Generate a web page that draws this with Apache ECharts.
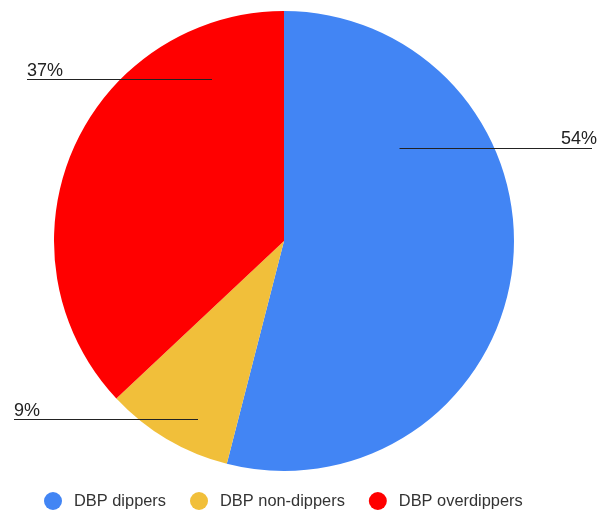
<!DOCTYPE html>
<html>
<head>
<meta charset="utf-8">
<script src="https://cdn.jsdelivr.net/npm/echarts@6/dist/echarts.min.js"></script>
<style>html,body{margin:0;padding:0;background:#fff}#c{width:609px;height:510px}</style>
</head>
<body>
<div id="c"></div>
<script>
const categories = ['DBP dippers', 'DBP non-dippers', 'DBP overdippers'];
const values = [54, 9, 37];
const colors = ['#4285f4', '#f1bf3a', '#ff0000'];

// label placement (text anchor + leader line), per slice
const labelPlacement = [
  { x: 597, y: 139, align: 'right', line: [[399.5, 148.5], [592, 148.5]] },
  { x: 14, y: 411.5, align: 'left', line: [[198, 419.5], [14, 419.5]] },
  { x: 27, y: 71.5, align: 'left', line: [[212, 79.5], [27, 79.5]] }
];

const FONT = 'Liberation Sans, Arial, Helvetica, sans-serif';
const pieData = categories.map((n, i) => ({ name: n, value: values[i] }));
const common = {
  type: 'pie',
  center: [284, 241],
  radius: 230,
  startAngle: 90,
  clockwise: true,
  emphasis: { disabled: true },
  animation: false
};

const chart = echarts.init(document.getElementById('c'), null, { renderer: 'canvas' });
chart.setOption({
  animation: false,
  color: colors,
  legend: {
    data: categories,
    left: 39,
    top: 487,
    icon: 'circle',
    itemWidth: 18,
    itemHeight: 18,
    itemGap: 24,
    textStyle: { fontFamily: FONT, fontSize: 16.4, color: '#333', padding: [0, 0, 0, 7] }
  },
  series: [
    Object.assign({}, common, {
      z: 2,
      data: pieData,
      label: { show: false },
      labelLine: { show: false },
      itemStyle: { borderWidth: 0 }
    }),
    Object.assign({}, common, {
      z: 3,
      silent: true,
      legendHoverLink: false,
      data: pieData.map((d, i) => ({ name: 'lbl' + i, value: d.value })),
      itemStyle: { color: 'rgba(0,0,0,0)', borderWidth: 0 },
      label: {
        show: true,
        position: 'outside',
        formatter: p => values[p.dataIndex] + '%',
        fontFamily: FONT,
        fontSize: 18,
        color: '#222'
      },
      labelLine: { show: true, smooth: false, length: 10, length2: 10, lineStyle: { color: '#222', width: 1 } },
      labelLayout: function (params) {
        const p = labelPlacement[params.dataIndex];
        return { x: p.x, y: p.y, align: p.align, verticalAlign: 'middle', labelLinePoints: p.line };
      }
    })
  ]
});
</script>
</body>
</html>
